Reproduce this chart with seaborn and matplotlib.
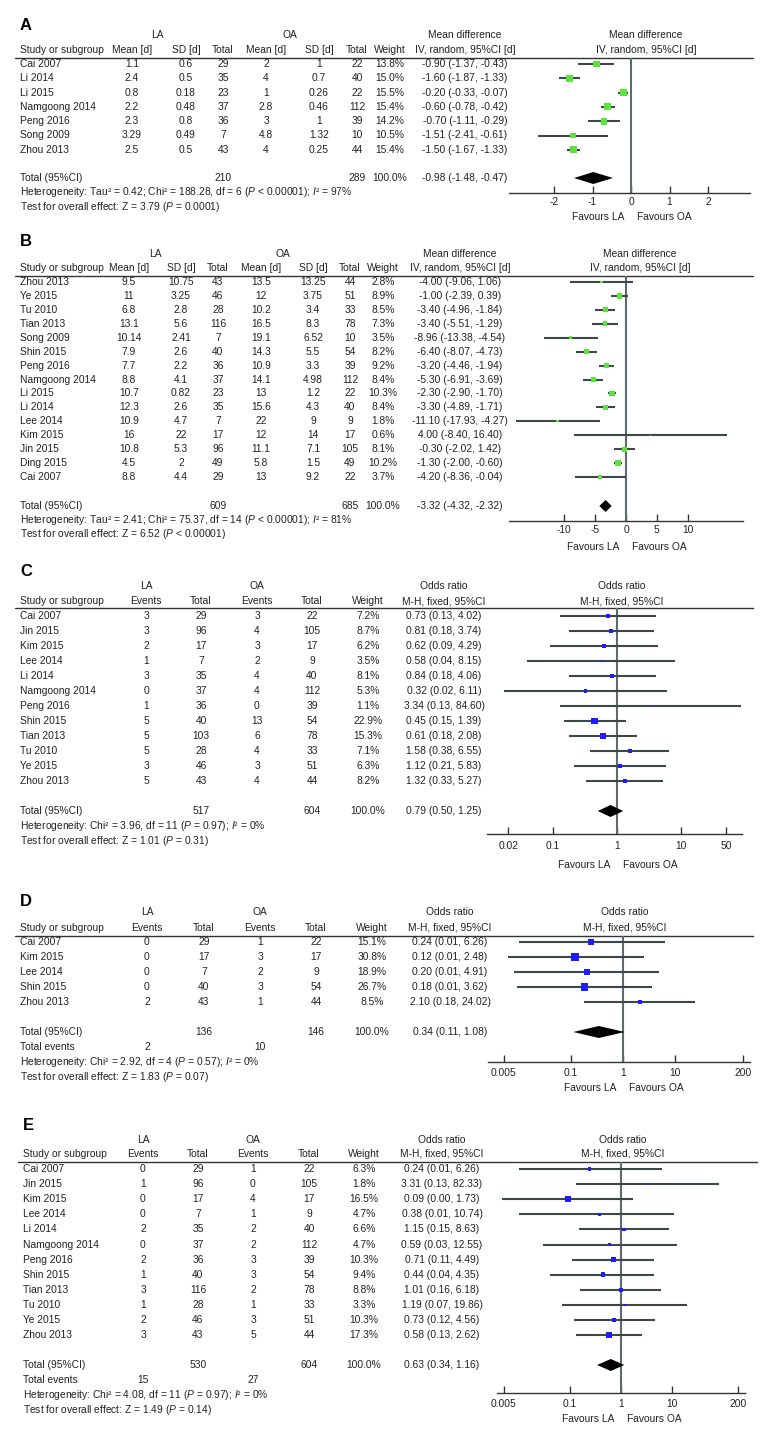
import numpy as np
import seaborn as sns
import matplotlib.pyplot as plt

W, H = 772, 1442

# ---------------- A: mean difference ----------------
a_study = ["Cai 2007", "Li 2014", "Li 2015", "Namgoong 2014", "Peng 2016", "Song 2009", "Zhou 2013"]
a_la_mean = [1.1, 2.4, 0.8, 2.2, 2.3, 3.29, 2.5]
a_la_sd = [0.6, 0.5, 0.18, 0.48, 0.8, 0.49, 0.5]
a_la_n = [29, 35, 23, 37, 36, 7, 43]
a_oa_mean = [2, 4, 1, 2.8, 3, 4.8, 4]
a_oa_sd = [1, 0.7, 0.26, 0.46, 1, 1.32, 0.25]
a_oa_n = [22, 40, 22, 112, 39, 10, 44]
a_weight = [13.8, 15.0, 15.5, 15.4, 14.2, 10.5, 15.4]
a_est = [-0.90, -1.60, -0.20, -0.60, -0.70, -1.51, -1.50]
a_lo = [-1.37, -1.87, -0.33, -0.78, -1.11, -2.41, -1.67]
a_hi = [-0.43, -1.33, -0.07, -0.42, -0.29, -0.61, -1.33]
a_total_n = [210, 289]
a_total_eff = [-0.98, -1.48, -0.47]
a_foot = ["Heterogeneity: Tau² = 0.42; Chi² = 188.28, df = 6 ($\\mathit{P}$ < 0.00001); $\\mathit{I}$² = 97%",
          "Test for overall effect: Z = 3.79 ($\\mathit{P}$ = 0.0001)"]

# ---------------- B: mean difference ----------------
b_study = ["Zhou 2013", "Ye 2015", "Tu 2010", "Tian 2013", "Song 2009", "Shin 2015", "Peng 2016",
           "Namgoong 2014", "Li 2015", "Li 2014", "Lee 2014", "Kim 2015", "Jin 2015", "Ding 2015", "Cai 2007"]
b_la_mean = [9.5, 11, 6.8, 13.1, 10.14, 7.9, 7.7, 8.8, 10.7, 12.3, 10.9, 16, 10.8, 4.5, 8.8]
b_la_sd = [10.75, 3.25, 2.8, 5.6, 2.41, 2.6, 2.2, 4.1, 0.82, 2.6, 4.7, 22, 5.3, 2, 4.4]
b_la_n = [43, 46, 28, 116, 7, 40, 36, 37, 23, 35, 7, 17, 96, 49, 29]
b_oa_mean = [13.5, 12, 10.2, 16.5, 19.1, 14.3, 10.9, 14.1, 13, 15.6, 22, 12, 11.1, 5.8, 13]
b_oa_sd = [13.25, 3.75, 3.4, 8.3, 6.52, 5.5, 3.3, 4.98, 1.2, 4.3, 9, 14, 7.1, 1.5, 9.2]
b_oa_n = [44, 51, 33, 78, 10, 54, 39, 112, 22, 40, 9, 17, 105, 49, 22]
b_weight = [2.8, 8.9, 8.5, 7.3, 3.5, 8.2, 9.2, 8.4, 10.3, 8.4, 1.8, 0.6, 8.1, 10.2, 3.7]
b_est = [-4.00, -1.00, -3.40, -3.40, -8.96, -6.40, -3.20, -5.30, -2.30, -3.30, -11.10, 4.00, -0.30, -1.30, -4.20]
b_lo = [-9.06, -2.39, -4.96, -5.51, -13.38, -8.07, -4.46, -6.91, -2.90, -4.89, -17.93, -8.40, -2.02, -2.00, -8.36]
b_hi = [1.06, 0.39, -1.84, -1.29, -4.54, -4.73, -1.94, -3.69, -1.70, -1.71, -4.27, 16.40, 1.42, -0.60, -0.04]
b_total_n = [609, 685]
b_total_eff = [-3.32, -4.32, -2.32]
b_foot = ["Heterogeneity: Tau² = 2.41; Chi² = 75.37, df = 14 ($\\mathit{P}$ < 0.00001); $\\mathit{I}$² = 81%",
          "Test for overall effect: Z = 6.52 ($\\mathit{P}$ < 0.00001)"]

# ---------------- C: odds ratio ----------------
c_study = ["Cai 2007", "Jin 2015", "Kim 2015", "Lee 2014", "Li 2014", "Namgoong 2014", "Peng 2016",
           "Shin 2015", "Tian 2013", "Tu 2010", "Ye 2015", "Zhou 2013"]
c_la_ev = [3, 3, 2, 1, 3, 0, 1, 5, 5, 5, 3, 5]
c_la_n = [29, 96, 17, 7, 35, 37, 36, 40, 103, 28, 46, 43]
c_oa_ev = [3, 4, 3, 2, 4, 4, 0, 13, 6, 4, 3, 4]
c_oa_n = [22, 105, 17, 9, 40, 112, 39, 54, 78, 33, 51, 44]
c_weight = [7.2, 8.7, 6.2, 3.5, 8.1, 5.3, 1.1, 22.9, 15.3, 7.1, 6.3, 8.2]
c_est = [0.73, 0.81, 0.62, 0.58, 0.84, 0.32, 3.34, 0.45, 0.61, 1.58, 1.12, 1.32]
c_lo = [0.13, 0.18, 0.09, 0.04, 0.18, 0.017, 0.13, 0.15, 0.18, 0.38, 0.21, 0.33]
c_hi = [4.02, 3.74, 4.29, 8.15, 4.06, 6.11, 84.60, 1.39, 2.08, 6.55, 5.83, 5.27]
c_total_n = [517, 604]
c_total_ev = [36, 50]
c_total_eff = [0.79, 0.50, 1.25]
c_foot = ["Heterogeneity: Chi² = 3.96, df = 11 ($\\mathit{P}$ = 0.97); $\\mathit{I}$² = 0%",
          "Test for overall effect: Z = 1.01 ($\\mathit{P}$ = 0.31)"]

# ---------------- D: odds ratio ----------------
d_study = ["Cai 2007", "Kim 2015", "Lee 2014", "Shin 2015", "Zhou 2013"]
d_la_ev = [0, 0, 0, 0, 2]
d_la_n = [29, 17, 7, 40, 43]
d_oa_ev = [1, 3, 2, 3, 1]
d_oa_n = [22, 17, 9, 54, 44]
d_weight = [15.1, 30.8, 18.9, 26.7, 8.5]
d_est = [0.24, 0.12, 0.20, 0.18, 2.10]
d_lo = [0.01, 0.006, 0.008, 0.009, 0.18]
d_hi = [6.26, 2.48, 4.91, 3.62, 24.02]
d_total_n = [136, 146]
d_total_ev = [2, 10]
d_total_eff = [0.34, 0.11, 1.08]
d_foot = ["Heterogeneity: Chi² = 2.92, df = 4 ($\\mathit{P}$ = 0.57); $\\mathit{I}$² = 0%",
          "Test for overall effect: Z = 1.83 ($\\mathit{P}$ = 0.07)"]

# ---------------- E: odds ratio ----------------
e_study = ["Cai 2007", "Jin 2015", "Kim 2015", "Lee 2014", "Li 2014", "Namgoong 2014", "Peng 2016",
           "Shin 2015", "Tian 2013", "Tu 2010", "Ye 2015", "Zhou 2013"]
e_la_ev = [0, 1, 0, 0, 2, 0, 2, 1, 3, 1, 2, 3]
e_la_n = [29, 96, 17, 7, 35, 37, 36, 40, 116, 28, 46, 43]
e_oa_ev = [1, 0, 4, 1, 2, 2, 3, 3, 2, 1, 3, 5]
e_oa_n = [22, 105, 17, 9, 40, 112, 39, 54, 78, 33, 51, 44]
e_weight = [6.3, 1.8, 16.5, 4.7, 6.6, 4.7, 10.3, 9.4, 8.8, 3.3, 10.3, 17.3]
e_est = [0.24, 3.31, 0.09, 0.38, 1.15, 0.59, 0.71, 0.44, 1.01, 1.19, 0.73, 0.58]
e_lo = [0.01, 0.13, 0.0046, 0.01, 0.15, 0.03, 0.11, 0.04, 0.16, 0.07, 0.12, 0.13]
e_hi = [6.26, 82.33, 1.73, 10.74, 8.63, 12.55, 4.49, 4.35, 6.18, 19.86, 4.56, 2.62]
e_total_n = [530, 604]
e_total_ev = [15, 27]
e_total_eff = [0.63, 0.34, 1.16]
e_foot = ["Heterogeneity: Chi² = 4.08, df = 11 ($\\mathit{P}$ = 0.97); $\\mathit{I}$² = 0%",
          "Test for overall effect: Z = 1.49 ($\\mathit{P}$ = 0.14)"]

md_head = ["Mean [d]", "SD [d]", "Total", "Mean [d]", "SD [d]", "Total", "Weight", "IV, random, 95%CI [d]"]
or_head = ["Events", "Total", "Events", "Total", "Weight", "M-H, fixed, 95%CI"]

sns.set_theme(style="white")
plt.rcParams["font.family"] = ["Liberation Sans", "DejaVu Sans"]
plt.rcParams["mathtext.fontset"] = "custom"
plt.rcParams["mathtext.rm"] = "Liberation Sans"
plt.rcParams["mathtext.it"] = "Liberation Sans:italic"
FS = 7.4
INK = "#222222"
CI_COL = "#3c4848"
NULL_COL = "#5c6b6b"


def fmt(v):
    return f"{v:g}"


def ci_text(e, lo, hi):
    return f"{e:.2f} ({lo:.2f}, {hi:.2f})"


def px_axes(fig, x0, y0, x1, y1):
    return fig.add_axes([x0 / W, 1 - y1 / H, (x1 - x0) / W, (y1 - y0) / H])


def draw_panel(fig, bg, letter, lay, study, cols, col_x, head2, groups, est, lo, hi, weight,
               total_n, total_idx, total_eff, foot, color, plot_x, xax, events=None):
    ys = lay["row0"] + lay["step"] * np.arange(len(study))
    txt = dict(fontsize=FS, va="center", color=INK)

    bg.text(lay["left"], lay["label"], letter, fontsize=12, fontweight="bold", va="center", color="black")
    for label, x in groups:
        bg.text(x, lay["h1"], label, ha="center", **txt)
    bg.text(lay["left"], lay["h2"], "Study or subgroup", **txt)
    for label, x in zip(head2, col_x):
        bg.text(x, lay["h2"], label, ha="center", **txt)
    bg.plot([lay["left"] - 5, lay["right"]], [lay["line"]] * 2, color="#333333", lw=1.0)

    # table body
    body = cols + [[f"{w:.1f}%" for w in weight], [ci_text(*t) for t in zip(est, lo, hi)]]
    for i, y in enumerate(ys):
        bg.text(lay["left"], y, study[i], **txt)
        for col, x in zip(body, col_x):
            bg.text(x, y, col[i] if isinstance(col[i], str) else fmt(col[i]), ha="center", **txt)

    # totals
    ty = lay["total"]
    bg.text(lay["left"], ty, "Total (95%CI)", **txt)
    for n, j in zip(total_n, total_idx):
        bg.text(col_x[j], ty, str(n), ha="center", **txt)
    bg.text(col_x[-2], ty, "100.0%", ha="center", **txt)
    bg.text(col_x[-1], ty, ci_text(*total_eff), ha="center", **txt)
    fy = ty + lay["step"]
    if events is not None:
        bg.text(lay["left"], fy, "Total events", **txt)
        for n, j in zip(events, (0, 2)):
            bg.text(col_x[j], fy, str(n), ha="center", **txt)
        fy += lay["step"]
    for line in foot:
        bg.text(lay["left"], fy, line, **txt)
        fy += lay["step"]

    # forest plot
    px0, px1, pxc = plot_x
    bg.text(pxc, lay["h1"], groups[-1][0], ha="center", **txt)
    bg.text(pxc, lay["h2"], head2[-1], ha="center", **txt)
    ax = px_axes(fig, px0, lay["line"], px1, xax["axis_y"])
    ax.set_facecolor("none")
    if xax["log"]:
        ax.set_xscale("log")
    ax.set_xlim(*xax["lim"])
    ax.set_ylim(xax["axis_y"], lay["line"])
    null = 1 if xax["log"] else 0
    ax.axvline(null, color=NULL_COL, lw=1.5, zorder=1)
    ax.hlines(ys, lo, hi, color=CI_COL, lw=1.5, zorder=2)
    k = xax["msize"]
    sns.scatterplot(x=est, y=ys, size=weight, sizes=(k * min(weight), k * max(weight)),
                    marker="s", color=color, linewidth=0, legend=False, ax=ax, zorder=3)
    te, tl, th = total_eff
    dh = xax["dh"]
    ax.fill([tl, te, th, te], [ty, ty - dh, ty, ty + dh], color="black", lw=0, zorder=4)

    for side in ("top", "left", "right"):
        ax.spines[side].set_visible(False)
    ax.spines["bottom"].set_color("#333333")
    ax.spines["bottom"].set_linewidth(1.0)
    ax.set_xticks(xax["ticks"])
    ax.set_xticklabels(xax["labels"])
    ax.minorticks_off()
    ax.set_yticks([])
    ax.set(xlabel="", ylabel="")
    ax.tick_params(axis="x", direction="in", length=5, width=1, color="#333333",
                   labelsize=FS, labelcolor=INK, pad=xax["pad"], bottom=True)
    ax.annotate("Favours LA", xy=(null, 0), xycoords=("data", "axes fraction"),
                xytext=(-5, -xax["fav"]), textcoords="offset points",
                ha="right", va="center", fontsize=FS, color=INK)
    ax.annotate("Favours OA", xy=(null, 0), xycoords=("data", "axes fraction"),
                xytext=(4, -xax["fav"]), textcoords="offset points",
                ha="left", va="center", fontsize=FS, color=INK)
    return ax


fig = plt.figure(figsize=(W / 100, H / 100), dpi=100)
bg = fig.add_axes([0, 0, 1, 1])
bg.set_xlim(0, W)
bg.set_ylim(H, 0)
bg.axis("off")

GREEN = "#5ce23c"
BLUE = "#1c1cff"

draw_panel(fig, bg, "A",
           dict(left=20, right=753, label=25, h1=35, h2=50, line=58, row0=64, step=14.3, total=178),
           a_study, [a_la_mean, a_la_sd, a_la_n, a_oa_mean, a_oa_sd, a_oa_n],
           [132, 186, 223, 266, 319, 357, 390, 465], md_head,
           [("LA", 157), ("OA", 290), ("Mean difference", 465)],
           a_est, a_lo, a_hi, a_weight, a_total_n, (2, 5), a_total_eff, a_foot, GREEN,
           (509, 750, 646),
           dict(axis_y=193, log=False, lim=(-3.17, 3.09), ticks=[-2, -1, 0, 1, 2],
                labels=["-2", "-1", "0", "1", "2"], pad=3, fav=17, msize=1.6, dh=6))

draw_panel(fig, bg, "B",
           dict(left=20, right=753, label=242, h1=254, h2=268, line=276, row0=282, step=13.93, total=506),
           b_study, [b_la_mean, b_la_sd, b_la_n, b_oa_mean, b_oa_sd, b_oa_n],
           [129, 181, 218, 261, 313, 350, 383, 460], md_head,
           [("LA", 155), ("OA", 283), ("Mean difference", 460)],
           b_est, b_lo, b_hi, b_weight, b_total_n, (2, 5), b_total_eff, b_foot, GREEN,
           (509, 743, 640),
           dict(axis_y=521, log=False, lim=(-19, 19), ticks=[-10, -5, 0, 5, 10],
                labels=["-10", "-5", "0", "5", "10"], pad=3, fav=19, msize=1.6, dh=6))

draw_panel(fig, bg, "C",
           dict(left=20, right=753, label=572, h1=586, h2=601, line=608, row0=616, step=15, total=811),
           c_study, [c_la_ev, c_la_n, c_oa_ev, c_oa_n],
           [146, 201, 257, 312, 368, 444], or_head,
           [("LA", 146), ("OA", 257), ("Odds ratio", 444)],
           c_est, c_lo, c_hi, c_weight, c_total_n, (1, 3), c_total_eff, c_foot, BLUE,
           (487, 742, 622),
           dict(axis_y=834, log=True, lim=(10 ** -2.03, 10 ** 1.95), ticks=[0.02, 0.1, 1, 10, 50],
                labels=["0.02", "0.1", "1", "10", "50"], pad=5, fav=22, msize=1.1, dh=6))

draw_panel(fig, bg, "D",
           dict(left=20, right=753, label=902, h1=912, h2=928, line=936, row0=942, step=15, total=1032),
           d_study, [d_la_ev, d_la_n, d_oa_ev, d_oa_n],
           [147, 204, 260, 316, 372, 450], or_head,
           [("LA", 147), ("OA", 260), ("Odds ratio", 450)],
           d_est, d_lo, d_hi, d_weight, d_total_n, (1, 3), d_total_eff, d_foot, BLUE,
           (488, 750, 625),
           dict(axis_y=1062, log=True, lim=(10 ** -2.6, 10 ** 2.44), ticks=[0.005, 0.1, 1, 10, 200],
                labels=["0.005", "0.1", "1", "10", "200"], pad=4, fav=19, msize=1.1, dh=6),
           events=d_total_ev)

draw_panel(fig, bg, "E",
           dict(left=23, right=757, label=1125, h1=1140, h2=1154, line=1162, row0=1169, step=15.1, total=1365),
           e_study, [e_la_ev, e_la_n, e_oa_ev, e_oa_n],
           [143, 198, 253, 309, 364, 442], or_head,
           [("LA", 143), ("OA", 253), ("Odds ratio", 442)],
           e_est, e_lo, e_hi, e_weight, e_total_n, (1, 3), e_total_eff, e_foot, BLUE,
           (497, 745, 623),
           dict(axis_y=1393, log=True, lim=(10 ** -2.43, 10 ** 2.43), ticks=[0.005, 0.1, 1, 10, 200],
                labels=["0.005", "0.1", "1", "10", "200"], pad=4, fav=19, msize=1.1, dh=6),
           events=e_total_ev)

fig.savefig("out.png", dpi=100, facecolor="white")
